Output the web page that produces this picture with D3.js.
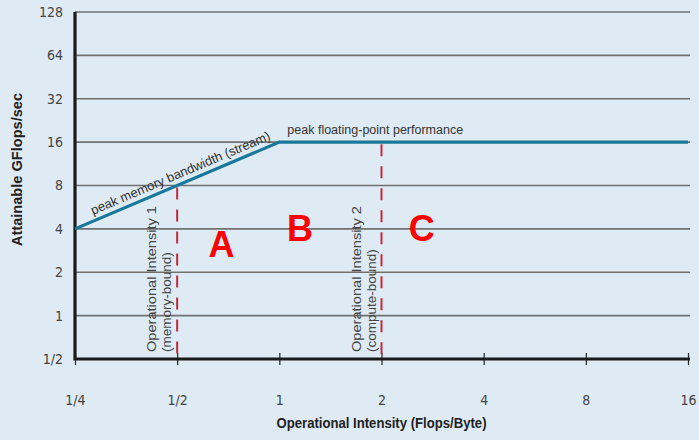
<!DOCTYPE html>
<html>
<head>
<meta charset="utf-8">
<script src="https://cdn.jsdelivr.net/npm/d3@7"></script>
<style>
  body { margin: 0; background: #deeaf4; }
  svg { display: block; }
  .tick text { font-family: "Liberation Sans Narrow", "DejaVu Sans Condensed", sans-serif; fill: #444; }
</style>
</head>
<body>
<svg id="chart"></svg>
<script>
// chart values
const xTicks = [0.25, 0.5, 1, 2, 4, 8, 16];
const xTickLabels = ["1/4", "1/2", "1", "2", "4", "8", "16"];
const yTicks = [0.5, 1, 2, 4, 8, 16, 32, 64, 128];
const yTickLabels = ["1/2", "1", "2", "4", "8", "16", "32", "64", "128"];
const rooflineX = [0.25, 1, 16];
const rooflineY = [4, 16, 16];
const intensityX = [0.5, 2];
const intensityLabels = [["Operational Intensity 1", "(memory-bound)"], ["Operational Intensity 2", "(compute-bound)"]];
const regionLabels = ["A", "B", "C"];
const regionX = [0.675, 1.15, 2.63];
const regionY = [3.1, 4.05, 4.05];

const width = 699, height = 440;
const margin = { top: 12, right: 11, bottom: 81, left: 75 };

const svg = d3.select("#chart").attr("width", width).attr("height", height);

const x = d3.scaleLog().base(2).domain([0.25, 16]).range([margin.left, width - margin.right]);
const y = d3.scaleLog().base(2).domain([0.5, 128]).range([height - margin.bottom, margin.top]);

// horizontal grid lines
svg.append("g")
    .selectAll("line")
    .data(yTicks.slice(1))
    .join("line")
    .attr("x1", x(0.25))
    .attr("x2", x(16) + 2)
    .attr("y1", d => y(d))
    .attr("y2", d => y(d))
    .attr("stroke", "#707070")
    .attr("stroke-width", 1.6);

// y axis labels
const yAxis = d3.axisLeft(y)
    .tickValues(yTicks)
    .tickFormat((d, i) => yTickLabels[i])
    .tickSize(0)
    .tickPadding(12);
svg.append("g")
    .attr("transform", `translate(${margin.left},0)`)
    .call(yAxis)
    .call(g => g.select(".domain").remove())
    .selectAll("text")
    .attr("font-size", 14);

// x axis
const xAxis = d3.axisBottom(x)
    .tickValues(xTicks)
    .tickFormat((d, i) => xTickLabels[i])
    .tickSizeInner(6)
    .tickSizeOuter(0)
    .tickPadding(30);
svg.append("g")
    .attr("transform", `translate(0,${y(0.5)})`)
    .call(xAxis)
    .call(g => g.select(".domain").remove())
    .call(g => g.selectAll(".tick line").attr("y1", -6).attr("stroke", "#222").attr("stroke-width", 1.2))
    .selectAll("text")
    .attr("font-size", 14);

// dashed intensity markers
svg.append("g")
    .selectAll("line")
    .data(intensityX)
    .join("line")
    .attr("x1", d => x(d))
    .attr("x2", d => x(d))
    .attr("y1", d => y(Math.min(16, d * 16)) + 2)
    .attr("y2", y(0.5))
    .attr("stroke", "#c22a3c")
    .attr("stroke-width", 2)
    .attr("stroke-dasharray", "12,10");

// intensity labels (rotated)
intensityX.forEach((v, i) => {
    const t = svg.append("text")
        .attr("transform", `translate(${x(v) - 21},${y(0.5) - 7}) rotate(-90)`)
        .attr("font-family", "Liberation Sans, Arial, sans-serif")
        .attr("font-size", 13.5)
        .attr("fill", "#444");
    t.append("tspan").attr("x", 0).attr("y", 0).attr("textLength", 146).attr("lengthAdjust", "spacingAndGlyphs").text(intensityLabels[i][0]);
    t.append("tspan").attr("x", 0).attr("y", 15).text(intensityLabels[i][1]);
});

// axis lines
svg.append("path")
    .attr("d", `M${x(0.25)},${y(128)}V${y(0.5)}H${x(16) + 2}`)
    .attr("fill", "none")
    .attr("stroke", "#1a1a1a")
    .attr("stroke-width", 3.2);

// roofline
const line = d3.line().x(d => x(d[0])).y(d => y(d[1]));
svg.append("path")
    .datum(d3.zip(rooflineX, rooflineY))
    .attr("d", line)
    .attr("fill", "none")
    .attr("stroke", "#17789a")
    .attr("stroke-width", 3.2);

// roofline labels
const angle = Math.atan2(y(16) - y(4), x(1) - x(0.25)) * 180 / Math.PI;
svg.append("text")
    .attr("transform", `translate(${x(0.25) + 18},${y(4) - 14}) rotate(${angle})`)
    .attr("font-family", "Liberation Sans, Arial, sans-serif")
    .attr("font-size", 13)
    .attr("fill", "#333")
    .text("peak memory bandwidth (stream)");

svg.append("text")
    .attr("x", x(1) + 8)
    .attr("y", y(16) - 8)
    .attr("font-family", "Liberation Sans, Arial, sans-serif")
    .attr("font-size", 12.5)
    .attr("fill", "#333")
    .text("peak floating-point performance");

// region letters
svg.append("g")
    .selectAll("text")
    .data(regionLabels)
    .join("text")
    .attr("x", (d, i) => x(regionX[i]))
    .attr("y", (d, i) => y(regionY[i]))
    .attr("text-anchor", "middle")
    .attr("dominant-baseline", "central")
    .attr("font-family", "Liberation Sans, Arial, sans-serif")
    .attr("font-weight", "bold")
    .attr("font-size", 36)
    .attr("fill", "#ff0000")
    .text(d => d);

// axis titles
svg.append("text")
    .attr("transform", `translate(22,${(y(128) + y(0.5)) / 2 - 16}) rotate(-90)`)
    .attr("text-anchor", "middle")
    .attr("font-family", "Liberation Sans, Arial, sans-serif")
    .attr("font-weight", "bold")
    .attr("font-size", 14)
    .attr("fill", "#222")
    .attr("textLength", 153)
    .attr("lengthAdjust", "spacingAndGlyphs")
    .text("Attainable GFlops/sec");

svg.append("text")
    .attr("x", (x(0.25) + x(16)) / 2)
    .attr("y", 428)
    .attr("text-anchor", "middle")
    .attr("font-family", "Liberation Sans, Arial, sans-serif")
    .attr("font-weight", "bold")
    .attr("font-size", 14)
    .attr("fill", "#222")
    .attr("textLength", 210)
    .attr("lengthAdjust", "spacingAndGlyphs")
    .text("Operational Intensity (Flops/Byte)");
</script>
</body>
</html>
